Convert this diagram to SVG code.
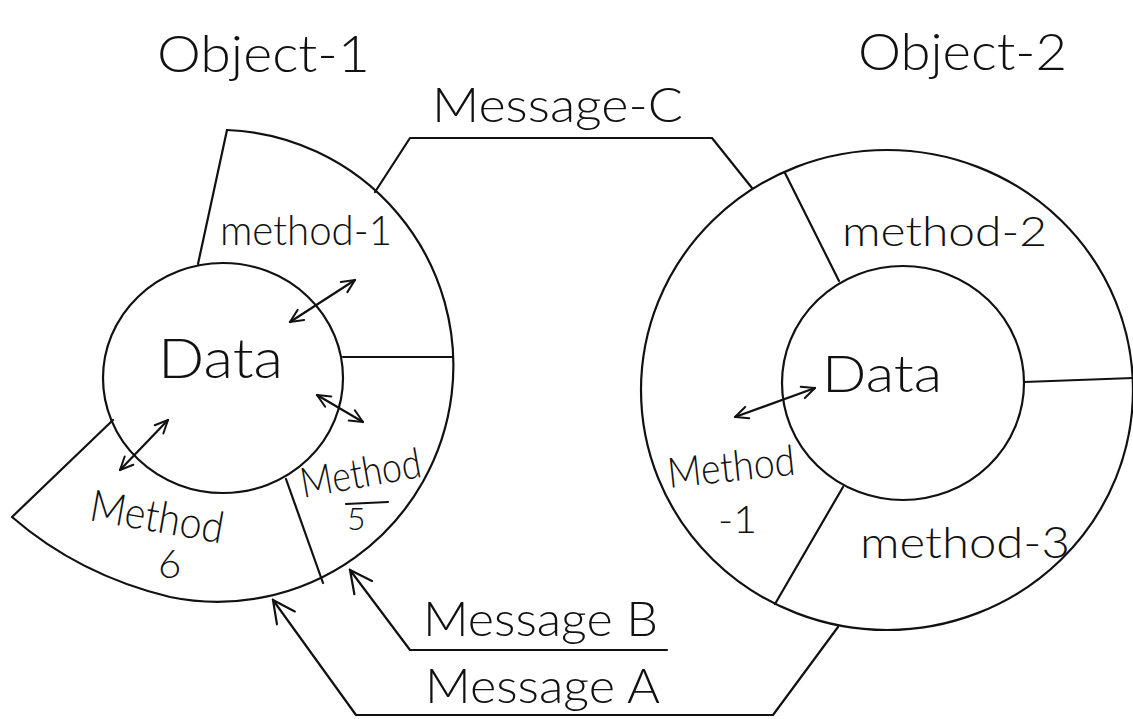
<svg xmlns="http://www.w3.org/2000/svg" width="1133" height="719" viewBox="0 0 1133 719">
<style>
.ln{fill:none;stroke:#111;stroke-width:2.2;stroke-linecap:round;stroke-linejoin:round}
.tx{font-family:"Lato","Open Sans","Liberation Sans",sans-serif;font-weight:300;fill:#111}
.da{marker-start:url(#hs);marker-end:url(#hs)}
.ma{marker-end:url(#hb)}
</style>
<defs>
<marker id="hs" viewBox="0 0 16 16" markerWidth="16" markerHeight="16" refX="15" refY="8" orient="auto-start-reverse" markerUnits="userSpaceOnUse">
<path d="M2,2 L15,8 L2,14" fill="none" stroke="#111" stroke-width="2" stroke-linecap="round"/>
</marker>
<marker id="hb" viewBox="0 0 26 26" markerWidth="26" markerHeight="26" refX="24" refY="13" orient="auto" markerUnits="userSpaceOnUse">
<path d="M2,2 L24,13 L2,24" fill="none" stroke="#111" stroke-width="2.2" stroke-linecap="round"/>
</marker>
</defs>
<rect width="1133" height="719" fill="#fff"/>

<g id="object-1">
<text class="tx" x="157" y="72" font-size="52" textLength="213" lengthAdjust="spacingAndGlyphs">Object-1</text>
<path class="ln" d="M227,130 A236,236 0 1 1 170,597 Q79,575 12,517 L113,420"/>
<line class="ln" x1="227" y1="130" x2="198" y2="264"/>
<ellipse id="data-1" class="ln" cx="223" cy="378" rx="120" ry="115"/>
<line class="ln" x1="343" y1="357" x2="453" y2="357"/>
<line class="ln" x1="286" y1="479" x2="323" y2="583"/>
<text class="tx" x="158" y="378" font-size="56" textLength="125" lengthAdjust="spacingAndGlyphs">Data</text>
<g id="method-1a"><text class="tx" x="220" y="245" font-size="42" textLength="172" lengthAdjust="spacingAndGlyphs">method-1</text></g>
<g id="method-5">
<text class="tx" x="303" y="498" font-size="42" textLength="122" lengthAdjust="spacingAndGlyphs" transform="rotate(-10 303 498)">Method</text>
<line class="ln" x1="346" y1="504" x2="388" y2="502" stroke-width="1.8"/>
<text class="tx" x="347" y="530" font-size="32">5</text>
</g>
<g id="method-6">
<text class="tx" x="88" y="520" font-size="44" textLength="135" lengthAdjust="spacingAndGlyphs" transform="rotate(10 88 520)">Method</text>
<text class="tx" x="158" y="578" font-size="40">6</text>
</g>
</g>

<g id="object-2">
<text class="tx" x="858" y="70" font-size="52" textLength="209" lengthAdjust="spacingAndGlyphs">Object-2</text>
<ellipse class="ln" cx="887" cy="390" rx="246" ry="240"/>
<ellipse id="data-2" class="ln" cx="903" cy="383" rx="121" ry="117"/>
<line class="ln" x1="785" y1="173" x2="839" y2="281"/>
<line class="ln" x1="1024" y1="382" x2="1133" y2="378"/>
<line class="ln" x1="843" y1="487" x2="775" y2="604"/>
<text class="tx" x="822" y="392" font-size="52" textLength="120" lengthAdjust="spacingAndGlyphs">Data</text>
<g id="method-2"><text class="tx" x="842" y="246" font-size="42" textLength="205" lengthAdjust="spacingAndGlyphs">method-2</text></g>
<g id="method-1b">
<text class="tx" x="669" y="488" font-size="42" textLength="128" lengthAdjust="spacingAndGlyphs" transform="rotate(-6 669 488)">Method</text>
<text class="tx" x="718" y="533" font-size="38" textLength="39" lengthAdjust="spacingAndGlyphs">-1</text>
</g>
<g id="method-3"><text class="tx" x="860" y="558" font-size="44" textLength="210" lengthAdjust="spacingAndGlyphs">method-3</text></g>
</g>

<g id="connectors">
<polyline class="ln" points="375,192 410,138 712,138 752,188"/>
<text class="tx" x="432" y="122" font-size="47" textLength="251" lengthAdjust="spacingAndGlyphs">Message-C</text>
<polyline class="ln ma" points="667,650 410,650 350,570"/>
<text class="tx" x="423" y="636" font-size="48" textLength="235" lengthAdjust="spacingAndGlyphs">Message B</text>
<polyline class="ln ma" points="838,627 773,715 356,715 273,600"/>
<text class="tx" x="425" y="703" font-size="48" textLength="235" lengthAdjust="spacingAndGlyphs">Message A</text>
<line class="ln da" x1="290" y1="322" x2="355" y2="280"/>
<line class="ln da" x1="317" y1="395" x2="363" y2="422"/>
<line class="ln da" x1="168" y1="420" x2="120" y2="470"/>
<line class="ln da" x1="735" y1="417" x2="815" y2="388"/>
</g>
</svg>
